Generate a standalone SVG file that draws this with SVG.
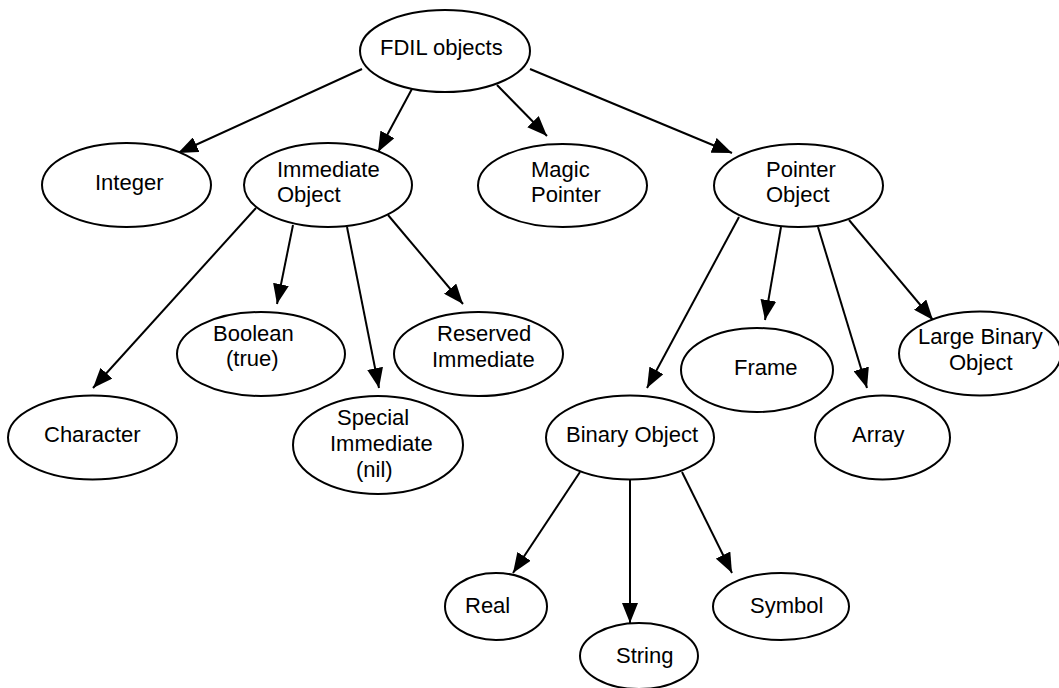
<svg xmlns="http://www.w3.org/2000/svg" width="1059" height="688" viewBox="0 0 1059 688">
<style>
.n ellipse{fill:#fff;stroke:#000;stroke-width:2}
.n text{font-family:"Liberation Sans",Arial,sans-serif;font-size:22px;fill:#000}
#edges line{stroke:#000;stroke-width:2;marker-end:url(#ah)}
</style>
<defs>
<marker id="ah" markerUnits="userSpaceOnUse" markerWidth="20" markerHeight="16" refX="20" refY="8" orient="auto">
<path d="M0,0 L20,8 L0,16 z" fill="#000"/>
</marker>
</defs>
<rect width="1059" height="688" fill="#fff"/>
<g id="edges">
<line x1="362" y1="69" x2="178" y2="153"/>
<line x1="413" y1="87" x2="378" y2="152"/>
<line x1="497" y1="85" x2="547" y2="136"/>
<line x1="530" y1="69" x2="732" y2="153"/>
<line x1="256" y1="208" x2="93" y2="388"/>
<line x1="293" y1="225" x2="277" y2="304"/>
<line x1="347" y1="227" x2="379" y2="388"/>
<line x1="388" y1="215" x2="463" y2="304"/>
<line x1="739" y1="217" x2="647" y2="388"/>
<line x1="781" y1="227" x2="765" y2="320"/>
<line x1="818" y1="227" x2="867" y2="388"/>
<line x1="849" y1="220" x2="933" y2="320"/>
<line x1="580" y1="472" x2="513" y2="573"/>
<line x1="630" y1="480" x2="630" y2="623"/>
<line x1="682" y1="472" x2="732" y2="573"/>
</g>
<g id="fdil" class="n"><ellipse cx="445" cy="51" rx="85" ry="41"/><text x="380" y="55">FDIL objects</text></g>
<g id="integer" class="n"><ellipse cx="126.5" cy="185" rx="84.5" ry="42"/><text x="95" y="190">Integer</text></g>
<g id="immediate" class="n"><ellipse cx="328" cy="185" rx="84" ry="42"/><text x="277" y="177">Immediate</text><text x="277" y="202">Object</text></g>
<g id="magic" class="n"><ellipse cx="562.5" cy="185.5" rx="84.5" ry="41.5"/><text x="531" y="177">Magic</text><text x="531" y="202">Pointer</text></g>
<g id="pointer" class="n"><ellipse cx="798.5" cy="185.5" rx="84.5" ry="41.5"/><text x="766" y="177">Pointer</text><text x="766" y="202">Object</text></g>
<g id="boolean" class="n"><ellipse cx="261" cy="354" rx="84" ry="42"/><text x="213" y="341">Boolean</text><text x="226" y="366">(true)</text></g>
<g id="reserved" class="n"><ellipse cx="478.5" cy="354" rx="84.5" ry="42"/><text x="437" y="341">Reserved</text><text x="432" y="367">Immediate</text></g>
<g id="character" class="n"><ellipse cx="92.5" cy="437.5" rx="84.5" ry="42"/><text x="44" y="442">Character</text></g>
<g id="special" class="n"><ellipse cx="378" cy="445" rx="85" ry="49"/><text x="337" y="425">Special</text><text x="330" y="451">Immediate</text><text x="356" y="477">(nil)</text></g>
<g id="frame" class="n"><ellipse cx="757" cy="370" rx="76" ry="42"/><text x="734" y="375">Frame</text></g>
<g id="large" class="n"><ellipse cx="980" cy="353.5" rx="81" ry="42"/><text x="918" y="344">Large Binary</text><text x="949" y="370">Object</text></g>
<g id="binary" class="n"><ellipse cx="630" cy="437.5" rx="84" ry="42"/><text x="566" y="442">Binary Object</text></g>
<g id="array" class="n"><ellipse cx="882.5" cy="437.5" rx="67.5" ry="42"/><text x="852" y="442">Array</text></g>
<g id="real" class="n"><ellipse cx="496" cy="606.5" rx="51" ry="33.5"/><text x="465" y="613">Real</text></g>
<g id="string" class="n"><ellipse cx="639" cy="656" rx="59" ry="33"/><text x="616" y="663">String</text></g>
<g id="symbol" class="n"><ellipse cx="781" cy="606.5" rx="68" ry="33.5"/><text x="750" y="613">Symbol</text></g>
</svg>
